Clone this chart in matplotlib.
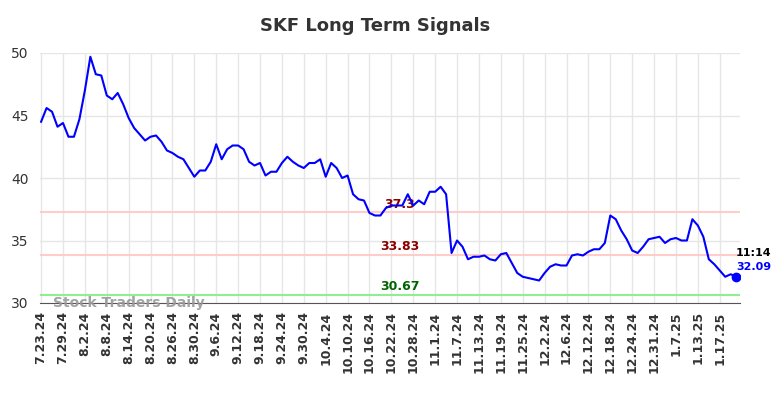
import matplotlib
matplotlib.use("Agg")
from matplotlib import pyplot as plt

# closing prices, one per trading day
prices = [
    44.5, 45.6, 45.3, 44.1, 44.4, 43.3, 43.3, 44.7, 47.0, 49.7,
    48.3, 48.2, 46.6, 46.3, 46.8, 45.9, 44.8, 44.0, 43.5, 43.0,
    43.3, 43.4, 42.9, 42.2, 42.0, 41.7, 41.5, 40.8, 40.1, 40.6,
    40.6, 41.3, 42.7, 41.5, 42.3, 42.6, 42.6, 42.3, 41.3, 41.0,
    41.2, 40.2, 40.5, 40.5, 41.2, 41.7, 41.3, 41.0, 40.8, 41.2,
    41.2, 41.5, 40.1, 41.2, 40.8, 40.0, 40.2, 38.7, 38.3, 38.2,
    37.2, 37.0, 37.0, 37.6, 37.8, 37.8, 37.8, 38.7, 37.8, 38.2,
    37.9, 38.9, 38.9, 39.3, 38.7, 34.0, 35.0, 34.5, 33.5, 33.7,
    33.7, 33.8, 33.5, 33.4, 33.9, 34.0, 33.2, 32.4, 32.1, 32.0,
    31.9, 31.8, 32.4, 32.9, 33.1, 33.0, 33.0, 33.8, 33.9, 33.8,
    34.1, 34.3, 34.3, 34.8, 37.0, 36.7, 35.8, 35.1, 34.2, 34.0,
    34.5, 35.1, 35.2, 35.3, 34.8, 35.1, 35.2, 35.0, 35.0, 36.7,
    36.2, 35.3, 33.5, 33.1, 32.6, 32.1, 32.3, 32.09,
]

tick_labels = [
    "7.23.24", "7.29.24", "8.2.24", "8.8.24", "8.14.24", "8.20.24",
    "8.26.24", "8.30.24", "9.6.24", "9.12.24", "9.18.24", "9.24.24",
    "9.30.24", "10.4.24", "10.10.24", "10.16.24", "10.22.24", "10.28.24",
    "11.1.24", "11.7.24", "11.13.24", "11.19.24", "11.25.24", "12.2.24",
    "12.6.24", "12.12.24", "12.18.24", "12.24.24", "12.31.24", "1.7.25",
    "1.13.25", "1.17.25",
]
tick_step = 4

resistance = [37.3, 33.83]
support = 30.67
last_time = "11:14"

x = list(range(len(prices)))

fig = plt.figure(figsize=(7.84, 3.98), dpi=100)
ax = fig.add_axes([40 / 784, 1 - 303 / 398, 700 / 784, 250 / 398])

for level in resistance:
    ax.axhline(level, color="#ffcccc", lw=1.5, zorder=1)
ax.axhline(support, color="#90ee90", lw=1.5, zorder=1)

ax.plot(x, prices, color="blue", lw=1.5, zorder=3)
ax.plot(x[-1], prices[-1], "o", color="blue", ms=6, zorder=4)

label_x = 65.5
ax.text(label_x, resistance[0] + 0.1, "37.3", color="#8b0000", fontsize=9,
        fontweight="bold", ha="center", va="bottom", zorder=2)
ax.text(label_x, resistance[1] + 0.15, "33.83", color="#8b0000", fontsize=9,
        fontweight="bold", ha="center", va="bottom")
ax.text(label_x, support + 0.15, "30.67", color="#006400", fontsize=9,
        fontweight="bold", ha="center", va="bottom")

ax.text(x[-1], prices[-1] + 1.5, last_time, color="black", fontsize=8,
        fontweight="bold", ha="left", va="bottom")
ax.text(x[-1], prices[-1] + 0.35, f"{prices[-1]:.2f}", color="blue",
        fontsize=8, fontweight="bold", ha="left", va="bottom")

ax.text(2.2, 30.0, "Stock Traders Daily", color="#999999", fontsize=10,
        fontweight="bold", ha="left", va="center", alpha=0.9)

ax.set_xlim(-0.2, 127.7)
ax.set_ylim(30, 50)
ax.set_yticks([30, 35, 40, 45, 50])
ax.set_xticks(x[::tick_step][:len(tick_labels)])
ax.set_xticklabels(tick_labels, rotation=90, fontweight="bold", fontsize=9,
                   color="#333333")
ax.tick_params(axis="y", labelsize=10, labelcolor="#333333", length=0, pad=8)
ax.tick_params(axis="x", length=0, pad=6)

ax.grid(True, color="#e6e6e6", lw=1)
ax.set_axisbelow(True)
for side in ("top", "right", "left"):
    ax.spines[side].set_visible(False)
ax.spines["bottom"].set_color("#555555")

fig.suptitle("SKF Long Term Signals", x=375 / 784, y=1 - 26 / 398,
             fontsize=13, fontweight="bold", color="#333333", va="center")

fig.savefig("out.png", dpi=100)
